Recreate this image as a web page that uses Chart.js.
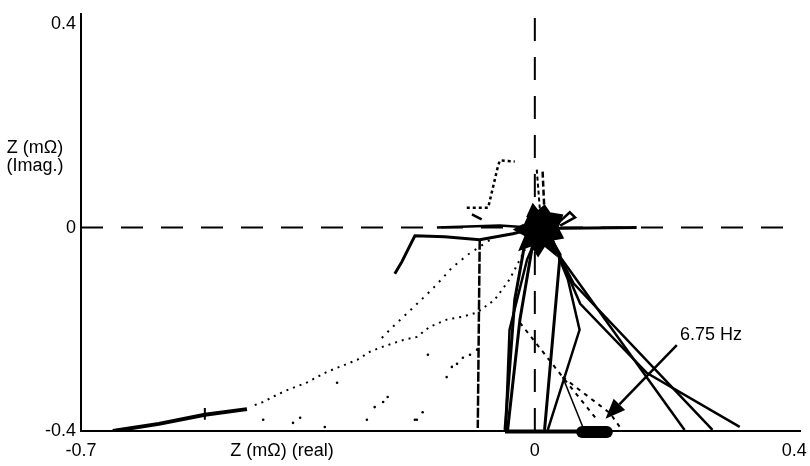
<!DOCTYPE html>
<html>
<head>
<meta charset="utf-8">
<script src="https://cdn.jsdelivr.net/npm/chart.js@4.4.1/dist/chart.umd.min.js"></script>
<style>
  html, body { margin: 0; padding: 0; background: #fff; }
  #wrap { width: 810px; height: 466px; position: relative; }
</style>
</head>
<body>
<div id="wrap"><canvas id="impedance"></canvas></div>
<script>
// tick values
const xTicks = [-0.7, 0, 0.4];
const yTicks = [-0.4, 0, 0.4];

// reference lines through the origin
const zeroReal = [[-0.7, 0], [0.409, 0]];
const zeroImag = [[0, -0.4], [0, 0.42]];

// traces, [real, imag] in mOhm
const bottomLeftStroke = [[-0.651, -0.400], [-0.580, -0.386], [-0.509, -0.368], [-0.444, -0.357]];
const strokeTick = [[-0.509, -0.355], [-0.509, -0.378]];
const lowerDotted = [
  [-0.432, -0.349], [-0.419, -0.343], [-0.398, -0.329], [-0.381, -0.319], [-0.352, -0.305],
  [-0.321, -0.284], [-0.274, -0.260], [-0.254, -0.244], [-0.234, -0.234], [-0.203, -0.221],
  [-0.182, -0.215], [-0.162, -0.195], [-0.136, -0.181], [-0.111, -0.175], [-0.089, -0.167],
  [-0.062, -0.142], [-0.039, -0.102], [-0.015, -0.043]
];
const upperDotted = [
  [-0.236, -0.217], [-0.219, -0.195], [-0.185, -0.154], [-0.159, -0.122], [-0.142, -0.099],
  [-0.128, -0.079], [-0.103, -0.053], [-0.069, -0.024]
];
const kinkTrace = [
  [-0.216, -0.091], [-0.205, -0.067], [-0.194, -0.039], [-0.185, -0.016], [-0.139, -0.018],
  [-0.085, -0.024], [-0.034, -0.012], [-0.008, -0.004]
];
const leftRun = [[-0.151, 0.000], [-0.054, 0.004], [-0.008, 0.000]];
const looseDots = [
  [-0.419, -0.378], [-0.373, -0.384], [-0.362, -0.374], [-0.324, -0.392], [-0.259, -0.378],
  [-0.247, -0.353], [-0.234, -0.343], [-0.227, -0.333], [-0.182, -0.378], [-0.173, -0.363],
  [-0.165, -0.250], [-0.136, -0.294], [-0.128, -0.274], [-0.111, -0.256], [-0.089, -0.240],
  [-0.305, -0.305], [-0.185, -0.378], [-0.120, -0.268], [-0.100, -0.250]
];
const verticalDrop = [[-0.085, -0.024], [-0.086, -0.142], [-0.088, -0.394]];
const dropA = [[-0.011, 0.000], [-0.031, -0.142], [-0.046, -0.398]];
const dropB = [[0.000, -0.008], [-0.023, -0.181], [-0.042, -0.398]];
const dropC = [[0.008, -0.004], [-0.012, -0.063], [-0.039, -0.201], [-0.045, -0.398]];
const dropD = [[0.015, 0.000], [0.039, -0.053], [0.015, -0.398]];
const dropE = [[0.023, -0.014], [0.051, -0.102], [0.069, -0.201], [0.020, -0.398]];
const diagA = [[0.020, -0.024], [0.231, -0.398]];
const diagB = [[0.023, -0.020], [0.060, -0.110], [0.274, -0.398]];
const diagC = [[0.026, -0.020], [0.070, -0.150], [0.173, -0.286], [0.316, -0.392]];
const markerDashA = [[-0.023, -0.187], [0.043, -0.294], [0.096, -0.378]];
const markerDashB = [[0.043, -0.294], [0.116, -0.365], [0.131, -0.392]];
const markerSolid = [[0.043, -0.294], [0.074, -0.392]];
const bottomRun = [[-0.046, -0.401], [0.100, -0.401]];
const markerBlob = [[0.073, -0.402], [0.111, -0.402]];
const rightRun = [[0.008, -0.002], [0.157, 0.000]];
const topHook = [[-0.105, 0.039], [-0.072, 0.039], [-0.057, 0.120], [-0.054, 0.132], [-0.031, 0.130]];
const topHookTail = [[-0.097, 0.026], [-0.082, 0.016]];
const riseA = [[0.003, 0.114], [0.008, 0.032]];
const riseB = [[0.012, 0.110], [0.015, 0.026]];
const rightLoop = [[0.028, 0.000], [0.054, 0.030], [0.062, 0.020], [0.039, 0.004]];
const centreBlob = [
  [-0.012, 0.020], [-0.003, 0.045], [0.005, 0.032], [0.015, 0.043], [0.023, 0.028],
  [0.042, 0.024], [0.035, 0.000], [0.043, -0.020], [0.026, -0.024], [0.032, -0.053],
  [0.015, -0.035], [0.005, -0.055], [-0.005, -0.035], [-0.023, -0.043], [-0.014, -0.016],
  [-0.031, -0.004], [-0.017, 0.006]
];

// annotation anchors
const noteText = "6.75 Hz";
const notePos = [0.224, -0.211];
const arrowFrom = [0.219, -0.231];
const arrowTo = [0.109, -0.376];

const FONT = '"Liberation Sans", Arial, sans-serif';

function trace(points, width, dash) {
  return {
    data: points.map(([x, y]) => ({ x, y })),
    showLine: true,
    borderColor: "#000",
    borderWidth: width,
    borderDash: dash || [],
    borderCapStyle: "butt",
    pointRadius: 0,
    fill: false,
    tension: 0,
  };
}

function dots(points, r) {
  return {
    data: points.map(([x, y]) => ({ x, y })),
    showLine: false,
    pointRadius: r,
    pointBackgroundColor: "#000",
    pointBorderWidth: 0,
  };
}

const blob = trace(centreBlob, 2);
blob.fill = "shape";
blob.backgroundColor = "#000";

// 6.75 Hz point sits on the bottom axis, so let it spill over the edge
const marker = trace(markerBlob, 12);
marker.borderCapStyle = "round";
marker.clip = false;

const baseRun = trace(bottomRun, 4);
baseRun.clip = false;

// axis titles + frequency note
const textLayer = {
  id: "textLayer",
  afterDraw(chart) {
    const { ctx, scales } = chart;
    const xs = scales.x, ys = scales.y;
    ctx.save();
    ctx.fillStyle = "#000";
    ctx.strokeStyle = "#000";
    ctx.font = "18px " + FONT;
    ctx.textAlign = "center";
    ctx.textBaseline = "middle";
    ctx.fillText("Z (m\u03A9)", 35, 148);
    ctx.fillText("(Imag.)", 35, 166);
    ctx.fillText("Z (m\u03A9) (real)", 282, 451);

    ctx.textAlign = "left";
    ctx.fillText(noteText, xs.getPixelForValue(notePos[0]), ys.getPixelForValue(notePos[1]));

    const x1 = xs.getPixelForValue(arrowFrom[0]), y1 = ys.getPixelForValue(arrowFrom[1]);
    const x2 = xs.getPixelForValue(arrowTo[0]), y2 = ys.getPixelForValue(arrowTo[1]);
    const ang = Math.atan2(y2 - y1, x2 - x1);
    const head = 20, half = 8;
    const bx = x2 - head * Math.cos(ang), by = y2 - head * Math.sin(ang);
    ctx.lineWidth = 2.5;
    ctx.beginPath();
    ctx.moveTo(x1, y1);
    ctx.lineTo(bx, by);
    ctx.stroke();
    ctx.beginPath();
    ctx.moveTo(x2, y2);
    ctx.lineTo(bx + half * Math.sin(ang), by - half * Math.cos(ang));
    ctx.lineTo(bx - half * Math.sin(ang), by + half * Math.cos(ang));
    ctx.closePath();
    ctx.fill();
    ctx.restore();
  },
};

new Chart(document.getElementById("impedance"), {
  type: "scatter",
  data: {
    datasets: [
      trace(zeroReal, 2, [22, 18]),
      trace(zeroImag, 2, [23, 16]),
      trace(bottomLeftStroke, 4),
      trace(strokeTick, 2),
      trace(lowerDotted, 2, [2, 5]),
      trace(upperDotted, 2, [2, 6]),
      trace(kinkTrace, 3, []),
      trace(leftRun, 2.5),
      dots(looseDots, 1.3),
      trace(verticalDrop, 2.5, [10, 2]),
      trace(dropA, 3),
      trace(dropB, 3),
      trace(dropC, 2.5),
      trace(dropD, 3),
      trace(dropE, 2.5),
      trace(diagA, 2.5),
      trace(diagB, 2.5),
      trace(diagC, 2.5),
      trace(markerDashA, 2, [4, 5]),
      trace(markerDashB, 2, [4, 5]),
      trace(markerSolid, 1.5),
      baseRun,
      marker,
      trace(rightRun, 3),
      trace(topHook, 2.5, [3, 3]),
      trace(topHookTail, 2.5),
      trace(riseA, 2, [4, 3]),
      trace(riseB, 2.5, [6, 3]),
      trace(rightLoop, 2.5),
      blob,
    ],
  },
  options: {
    responsive: true,
    maintainAspectRatio: false,
    animation: false,
    layout: { padding: { left: 0, right: 10, top: 14, bottom: 0 } },
    plugins: { legend: { display: false }, tooltip: { enabled: false } },
    scales: {
      x: {
        type: "linear",
        min: -0.7,
        max: 0.409,
        afterBuildTicks: (axis) => { axis.ticks = xTicks.map((v) => ({ value: v })); },
        afterFit: (axis) => { axis.height = 35; axis.paddingLeft = 0; axis.paddingRight = 0; },
        grid: { display: false, drawTicks: false },
        border: { display: true, color: "#000", width: 2 },
        ticks: { color: "#000", padding: 9, maxRotation: 0, font: { family: FONT, size: 18 }, callback: (v) => String(v) },
      },
      y: {
        type: "linear",
        min: -0.4,
        max: 0.42,
        afterBuildTicks: (axis) => { axis.ticks = yTicks.map((v) => ({ value: v })); },
        afterFit: (axis) => { axis.width = 81; axis.paddingTop = 0; axis.paddingBottom = 0; },
        grid: { display: false, drawTicks: false },
        border: { display: true, color: "#000", width: 2 },
        ticks: { color: "#000", padding: 5, font: { family: FONT, size: 18 }, callback: (v) => String(v) },
      },
    },
  },
  plugins: [textLayer],
});
</script>
</body>
</html>
